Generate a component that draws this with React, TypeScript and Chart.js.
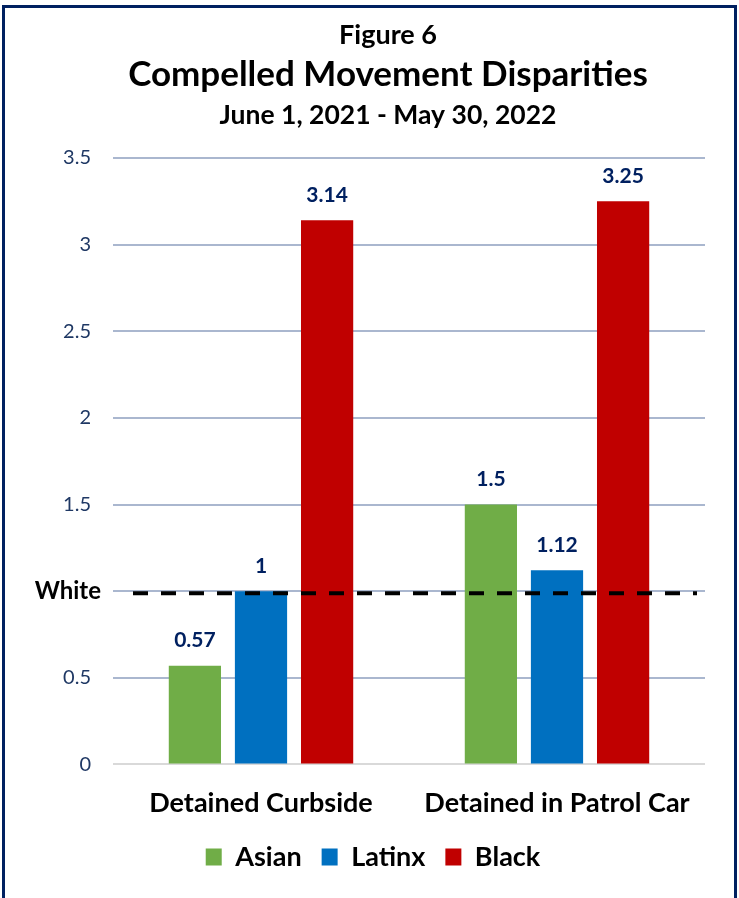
import React, { useEffect, useRef } from 'react';
import { Chart, registerables } from 'chart.js';

Chart.register(...registerables);

const categories = ['Detained Curbside', 'Detained in Patrol Car'];
const seriesNames = ['Asian', 'Latinx', 'Black'];
const asianValues = [0.57, 1.5];
const latinxValues = [1, 1.12];
const blackValues = [3.14, 3.25];
const seriesColors = ['#70AD47', '#0070C0', '#C00000'];
const yTickValues = [0, 0.5, 1, 1.5, 2, 2.5, 3, 3.5];
const referenceValue = 1;
const referenceLabel = 'White';
const titleLines = ['Figure 6', 'Compelled Movement Disparities', 'June 1, 2021 - May 30, 2022'];

const FONT = 'Lato';
const NAVY = '#1F3864';

const overlayPlugin = {
  id: 'overlay',
  afterDatasetsDraw(chart: any) {
    const { ctx, scales } = chart;
    const y = scales.y;
    ctx.save();
    // data labels
    ctx.fillStyle = '#002060';
    ctx.font = `bold 21px ${FONT}`;
    ctx.textAlign = 'center';
    ctx.textBaseline = 'middle';
    chart.data.datasets.forEach((ds: any, di: number) => {
      const meta = chart.getDatasetMeta(di);
      meta.data.forEach((el: any, i: number) => {
        ctx.fillText(String(ds.data[i]), el.x, el.y - 25);
      });
    });
    // reference dashed line
    const ry = y.getPixelForValue(referenceValue) + 2;
    ctx.strokeStyle = '#000000';
    ctx.lineWidth = 4;
    ctx.setLineDash([15, 13]);
    ctx.beginPath();
    ctx.moveTo(chart.chartArea.left + 20, ry);
    ctx.lineTo(chart.chartArea.right - 8, ry);
    ctx.stroke();
    ctx.setLineDash([]);
    // reference label
    ctx.fillStyle = '#000000';
    ctx.font = `bold 24px ${FONT}`;
    ctx.textAlign = 'right';
    ctx.fillText(referenceLabel, chart.chartArea.left - 12, ry - 2);
    ctx.restore();
  },
  afterDraw(chart: any) {
    const { ctx } = chart;
    ctx.save();
    ctx.fillStyle = '#000000';
    ctx.textAlign = 'center';
    ctx.textBaseline = 'middle';
    const cx = 388;
    ctx.font = `bold 27px ${FONT}`;
    ctx.fillText(titleLines[0], cx, 35);
    ctx.font = `bold 35px ${FONT}`;
    ctx.fillText(titleLines[1], cx, 75);
    ctx.font = `bold 26.5px ${FONT}`;
    ctx.fillText(titleLines[2], cx, 115);
    ctx.restore();
  },
};

export default function App() {
  const canvasRef = useRef<HTMLCanvasElement | null>(null);

  useEffect(() => {
    document.body.style.margin = '0';
    document.body.style.overflow = 'hidden';
    const canvas = canvasRef.current;
    if (!canvas) return;
    const valuesBySeries = [asianValues, latinxValues, blackValues];
    const chart = new Chart(canvas, {
      type: 'bar',
      data: {
        labels: categories,
        datasets: seriesNames.map((name, i) => ({
          label: name,
          data: valuesBySeries[i],
          backgroundColor: seriesColors[i],
          borderWidth: 0,
          categoryPercentage: 0.67,
          barPercentage: 0.79,
        })),
      },
      options: {
        responsive: false,
        animation: false,
        layout: { padding: { top: 158, right: 0, left: 7, bottom: 17.6 } },
        plugins: {
          title: { display: false },
          tooltip: { enabled: false },
          legend: {
            display: true,
            position: 'bottom',
            labels: {
              boxWidth: 16,
              boxHeight: 17,
              padding: 20,
              color: '#000000',
              font: { family: FONT, weight: 'bold', size: 27 },
            },
          },
        },
        scales: {
          x: {
            grid: { display: false, drawTicks: false },
            border: { display: false },
            ticks: {
              color: '#000000',
              padding: 23,
              font: { family: FONT, weight: 'bold', size: 27 },
            },
            afterFit: (scale: any) => {
              scale.height = 59;
            },
          },
          y: {
            min: 0,
            max: 3.5,
            afterBuildTicks: (scale: any) => {
              scale.ticks = yTickValues.map((v) => ({ value: v }));
            },
            afterFit: (scale: any) => {
              scale.width = 106;
            },
            border: { display: false },
            grid: {
              drawTicks: false,
              lineWidth: 2,
              color: (c: any) => (c.tick && c.tick.value === 0 ? '#D9D9D9' : '#AAB7CF'),
            },
            ticks: {
              padding: 22,
              color: NAVY,
              font: { family: FONT, size: 20 },
              callback: (v: any) => (Number(v) === referenceValue ? '' : String(v)),
            },
          },
          rightSpace: {
            type: 'linear',
            position: 'right',
            display: true,
            grid: { display: false, drawTicks: false },
            border: { display: false },
            ticks: { display: false },
            afterFit: (scale: any) => {
              scale.width = 34;
            },
          },
        },
      },
      plugins: [overlayPlugin],
    });
    return () => chart.destroy();
  }, []);

  return (
    <div style={{ position: 'absolute', left: 0, top: 0, width: 739, height: 898, background: '#fff' }}>
      <canvas ref={canvasRef} width={739} height={898} style={{ display: 'block' }} />
      <div
        style={{
          position: 'absolute',
          left: 2,
          top: 5,
          width: 729,
          height: 900,
          borderLeft: '3px solid #002060',
          borderTop: '3px solid #002060',
          borderRight: '3px solid #002060',
          pointerEvents: 'none',
        }}
      />
    </div>
  );
}
